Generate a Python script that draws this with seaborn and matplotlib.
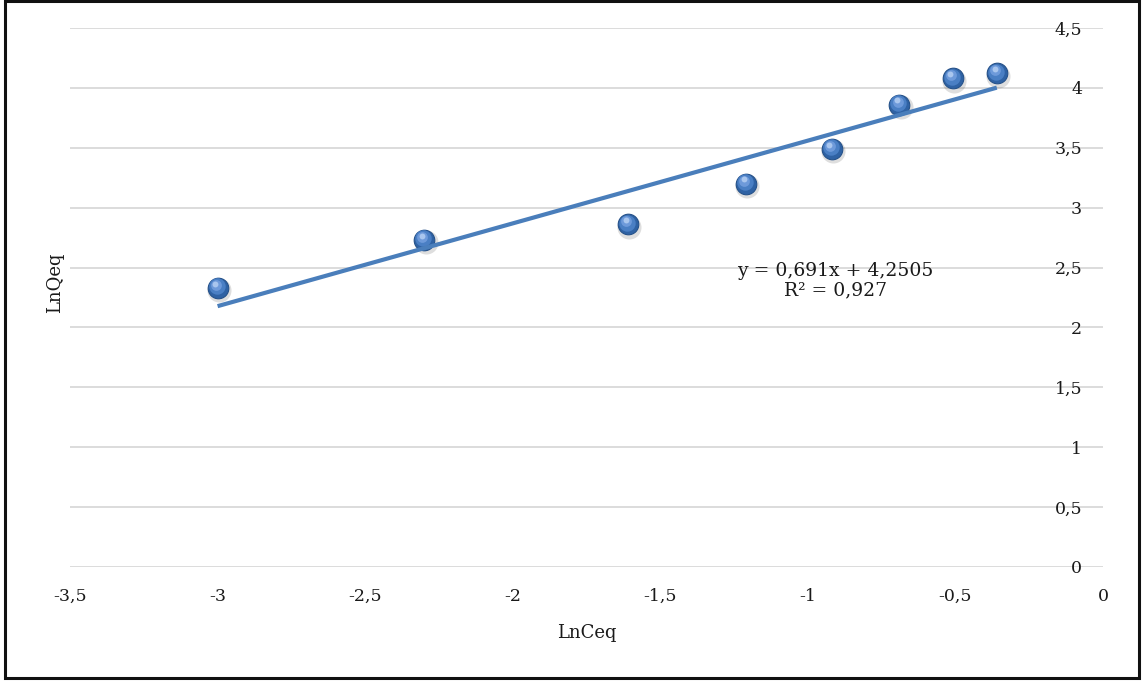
import numpy as np
import pandas as pd
import matplotlib
matplotlib.use("Agg")
import matplotlib.pyplot as plt
from matplotlib.patches import Rectangle
from matplotlib.ticker import FuncFormatter, MultipleLocator
from matplotlib.transforms import offset_copy
import seaborn as sns

# Linearised Freundlich data
ln_ceq = [-3.00, -2.30, -1.61, -1.21, -0.92, -0.69, -0.51, -0.36]
ln_qeq = [2.33, 2.73, 2.86, 3.20, 3.49, 3.86, 4.08, 4.12]

# Fitted trendline and its statistics
slope = 0.691
intercept = 4.2505
r_squared = 0.927

x_label = "LnCeq"
y_label = "LnQeq"

df = pd.DataFrame({x_label: ln_ceq, y_label: ln_qeq})

sns.set_theme(style="white")
plt.rcParams["font.family"] = ["DejaVu Serif"]

fig = plt.figure(figsize=(11.44, 6.84), dpi=100)
ax = fig.add_axes([0.0612, 0.1711, 0.9030, 0.7880])

ax.set_xlim(-3.5, 0)
ax.set_ylim(0, 4.5)
ax.xaxis.set_major_locator(MultipleLocator(0.5))
ax.yaxis.set_major_locator(MultipleLocator(0.5))

def comma_fmt(v, pos):
    s = f"{v:g}"
    if s == "-0":
        s = "0"
    return s.replace(".", ",")

ax.xaxis.set_major_formatter(FuncFormatter(comma_fmt))
ax.yaxis.set_major_formatter(FuncFormatter(comma_fmt))

# horizontal gridlines only
ax.grid(axis="y", color="#D9D9D9", linewidth=1.3)
ax.grid(axis="x", visible=False)
ax.set_axisbelow(True)
for sp in ax.spines.values():
    sp.set_visible(False)

txt_color = "#1a1a1a"
# y ticks sit at x = 0 (right edge), labels inside the plot
ax.yaxis.tick_right()
ax.tick_params(axis="y", length=0, pad=-15, labelsize=12.5, labelcolor=txt_color)
for lbl in ax.get_yticklabels():
    lbl.set_horizontalalignment("right")
ax.tick_params(axis="x", length=0, pad=15, labelsize=12.5, labelcolor=txt_color)

# spherical markers: shadow, body, shading, highlight
shadow_tr = offset_copy(ax.transData, fig=fig, x=1.5, y=-2.5, units="dots")
ax.scatter(ln_ceq, ln_qeq, s=300, color="#000000", alpha=0.13, linewidths=0,
           transform=shadow_tr, zorder=2)
sns.scatterplot(data=df, x=x_label, y=y_label, s=220, color="#2F62A4",
                edgecolor="#26528A", linewidth=0.8, ax=ax, zorder=3, legend=False)
mid_tr = offset_copy(ax.transData, fig=fig, x=-1.0, y=1.5, units="dots")
ax.scatter(ln_ceq, ln_qeq, s=140, color="#4A7FC4", linewidths=0,
           transform=mid_tr, zorder=4)
mid2_tr = offset_copy(ax.transData, fig=fig, x=-1.8, y=3.0, units="dots")
ax.scatter(ln_ceq, ln_qeq, s=60, color="#6E9ADA", linewidths=0,
           transform=mid2_tr, zorder=4)
hi_tr = offset_copy(ax.transData, fig=fig, x=-2.2, y=4.2, units="dots")
ax.scatter(ln_ceq, ln_qeq, s=18, color="#A9C6EE", linewidths=0,
           transform=hi_tr, zorder=5)

# linear trendline over the data range
x_fit = np.array([min(ln_ceq), max(ln_ceq)])
y_fit = slope * x_fit + intercept
ax.plot(x_fit, y_fit, color="#4A7EBB", linewidth=3.0, solid_capstyle="butt", zorder=6)

eq_text = f"y = {slope:g}x + {intercept:g}".replace(".", ",") + "\n" + \
          f"R² = {r_squared:g}".replace(".", ",")
ax.text(0.741, 0.532, eq_text, transform=ax.transAxes, ha="center", va="center",
        multialignment="center", fontsize=13.5, color=txt_color, linespacing=1.1)

ax.set_xlabel(x_label, fontsize=13, color=txt_color)
ax.set_ylabel(y_label, fontsize=13, color=txt_color)
ax.yaxis.set_label_position("left")
ax.xaxis.set_label_coords(0.50, -0.105)
ax.yaxis.set_label_coords(-0.006, 0.527)

# chart frame
fig.add_artist(Rectangle((0.0044, 0.0088), 0.9912, 0.9897, transform=fig.transFigure,
                         fill=False, edgecolor="#111111", linewidth=2.2))

fig.savefig("out.png", dpi=100)
